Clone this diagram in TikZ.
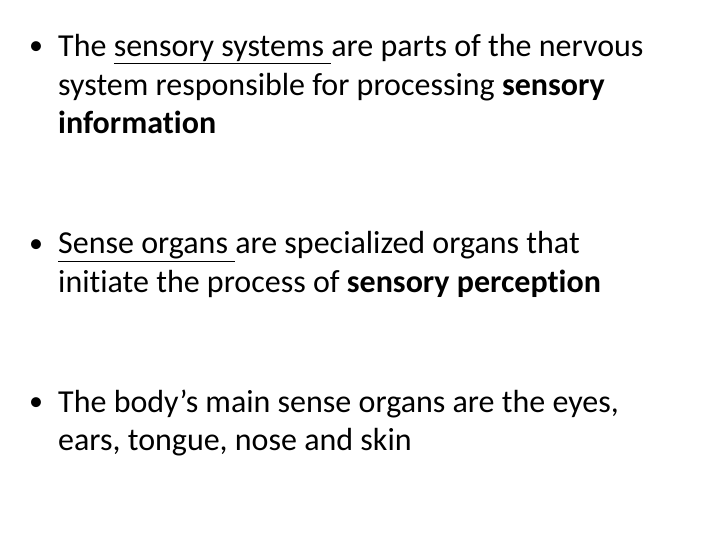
\documentclass[tikz,border=0pt]{standalone}
\usepackage{fontspec}
\setmainfont{Carlito}[Ligatures={NoCommon,NoRare,NoContextual}]
\begin{document}
\begin{tikzpicture}[x=1pt,y=-1pt,
  txt/.style={anchor=base west,inner sep=0pt,font=\fontsize{32}{38}\selectfont},
  bul/.style={anchor=base west,inner sep=0pt,font=\fontsize{28}{38}\selectfont}]
\useasboundingbox[fill=white] (0,0) rectangle (720,540);
\node[bul] (b1) at (29,55) {•};
\node[txt] (l1) at (58,57) {The \underline{sensory systems\ }are parts of the nervous};
\node[txt] (l2) at (58,96) {system responsible for processing \textbf{sensory}};
\node[txt] (l3) at (58,134) {\textbf{information}};
\node[bul] (b2) at (29,252) {•};
\node[txt] (l4) at (58,254) {\underline{Sense organs\ }are specialized organs that};
\node[txt] (l5) at (58,292) {initiate the process of \textbf{sensory perception}};
\node[bul] (b3) at (29,410) {•};
\node[txt] (l6) at (58,412) {The body’s main sense organs are the eyes,};
\node[txt] (l7) at (58,450) {ears, tongue, nose and skin};
\end{tikzpicture}
\end{document}
